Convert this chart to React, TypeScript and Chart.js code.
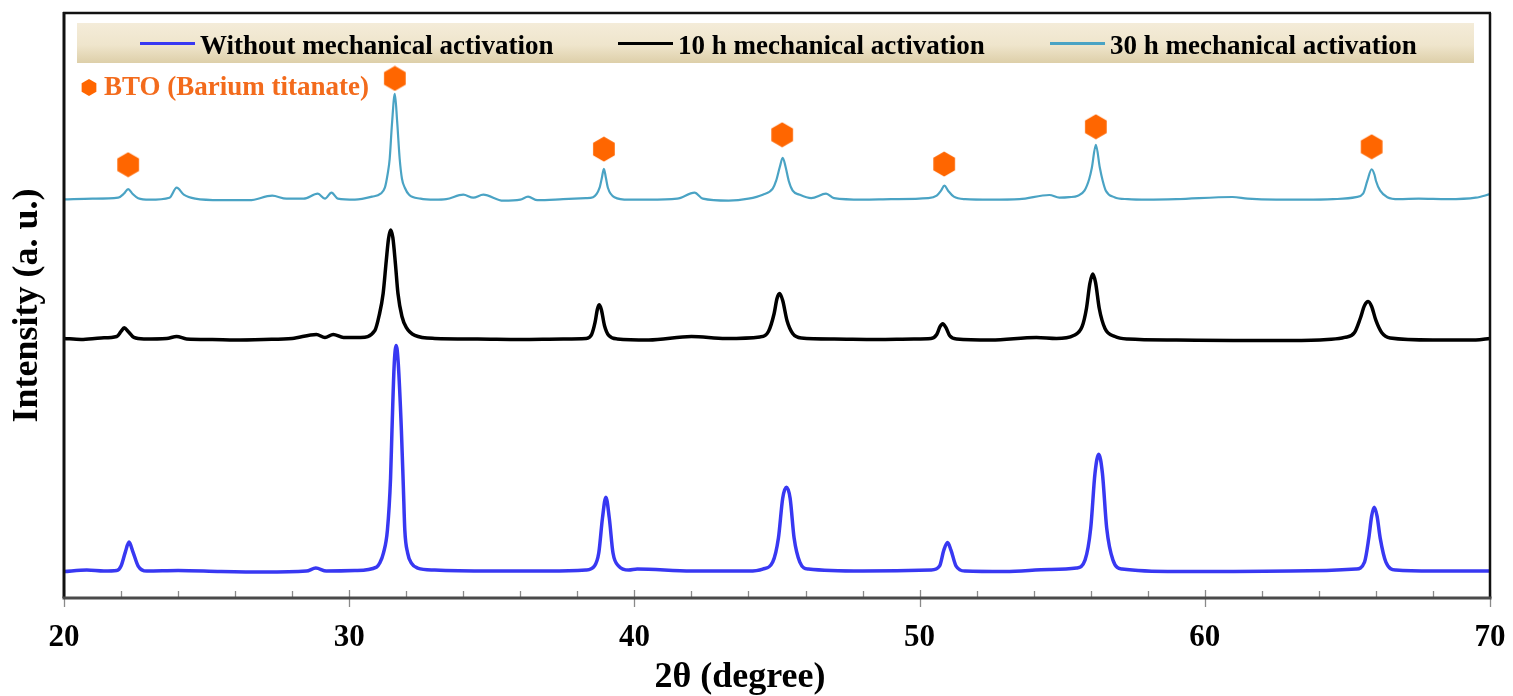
import React, { useEffect, useRef } from "react";
import { Chart, registerables } from "chart.js";

Chart.register(...registerables);

const SERIF = '"Times New Roman", "Liberation Serif", serif';

// ---- data (2θ in degrees, intensity in a.u., offsets included) ----
const xTickValues = [20, 30, 40, 50, 60, 70];
const xMinorTickValues = [22, 24, 26, 28, 32, 34, 36, 38, 42, 44, 46, 48, 52, 54, 56, 58, 62, 64, 66, 68];
const xTitle = "2θ (degree)";
const yTitle = "Intensity (a. u.)";

const seriesLabels = [
  "Without mechanical activation",
  "10 h mechanical activation",
  "30 h mechanical activation",
];
const seriesColors = ["#3838f2", "#000000", "#4aa3c4"];

const noActivation: [number, number][] = [
  [20, 26.5], [20.8, 28], [21.4, 27], [21.85, 27.5], [22.0, 32], [22.15, 46], [22.28, 56], [22.42, 46],
  [22.6, 32], [22.9, 27], [24, 27.5], [25.5, 26.5], [27, 26], [28.5, 27], [28.83, 30], [29.2, 27],
  [30.2, 27.5], [30.96, 31], [31.07, 35], [31.2, 45], [31.34, 68], [31.45, 120], [31.5, 168], [31.58, 235],
  [31.65, 253], [31.72, 235], [31.83, 168], [31.9, 110], [31.95, 68], [32.05, 45], [32.18, 35], [32.4, 30],
  [33, 28], [35, 27], [37, 27], [38.3, 28], [38.6, 32], [38.75, 45], [38.88, 80], [39.0, 101],
  [39.12, 80], [39.25, 45], [39.45, 32], [39.8, 28], [40.1, 29], [42, 27], [44, 27], [44.5, 29],
  [44.85, 36], [45.05, 60], [45.2, 100], [45.33, 111], [45.46, 100], [45.6, 60], [45.8, 36], [46.1, 29],
  [48, 27], [50.4, 28], [50.7, 32], [50.85, 48], [50.98, 55.5], [51.1, 48], [51.28, 32], [51.6, 27],
  [53, 26.5], [54.55, 28.5], [55.5, 30], [55.8, 38], [56.0, 70], [56.15, 125], [56.28, 144], [56.41, 125],
  [56.56, 70], [56.78, 38], [57.1, 29], [59, 26.5], [61, 26.5], [63, 27], [65.3, 29], [65.6, 36],
  [65.75, 60], [65.85, 82], [65.94, 91], [66.04, 82], [66.15, 60], [66.35, 36], [66.7, 28], [68, 27], [70, 27],
];

const activation10h: [number, number][] = [
  [20, 260], [20.6, 259], [21.3, 260.5], [21.85, 262], [22.0, 267], [22.11, 270.6], [22.25, 267], [22.45, 261],
  [22.8, 259.5], [23.6, 260], [23.95, 262], [24.3, 259.5], [25.2, 259], [26, 258.5], [27, 259], [28, 260],
  [28.85, 264], [29.15, 261], [29.44, 264], [29.8, 261], [30.4, 261], [30.9, 268], [31.05, 283], [31.19, 305],
  [31.3, 338], [31.38, 360], [31.45, 368.7], [31.53, 361], [31.62, 335], [31.71, 305], [31.85, 282], [32.0, 271],
  [32.3, 263], [33, 260], [34.5, 259.5], [36, 259], [37.5, 259.5], [38.3, 260], [38.5, 264], [38.62, 276],
  [38.7, 289], [38.76, 293.7], [38.84, 289], [38.95, 273], [39.1, 263], [39.4, 259.5], [40.5, 258.5], [42, 262],
  [43.2, 260], [44.4, 261.5], [44.7, 267], [44.9, 285], [45.0, 300], [45.09, 305], [45.2, 298], [45.35, 278],
  [45.55, 265], [45.85, 260.5], [47, 259.5], [48.5, 259], [49.8, 259.5], [50.4, 260], [50.6, 264], [50.72, 272],
  [50.81, 274.8], [50.92, 271], [51.05, 263], [51.3, 259.5], [52.5, 258.5], [54.1, 261], [54.8, 260], [55.4, 263],
  [55.7, 272], [55.85, 290], [55.97, 315], [56.07, 324.6], [56.17, 316], [56.3, 290], [56.5, 270], [56.85, 262],
  [57.3, 259.5], [59, 258.5], [61, 258], [63, 258], [64.3, 259], [64.9, 261], [65.25, 266], [65.45, 280],
  [65.6, 293], [65.73, 297], [65.85, 292], [66.0, 278], [66.2, 266], [66.5, 260.5], [68, 258.5], [69.5, 258.5], [70, 260],
];

const activation30h: [number, number][] = [
  [20, 399.3], [21.0, 400], [21.9, 401], [22.1, 405], [22.25, 409.6], [22.4, 405], [22.6, 400.5], [23.0, 399],
  [23.7, 401], [23.95, 411], [24.2, 404], [24.6, 400], [25.5, 398.5], [26.5, 398.5], [27.3, 403], [27.8, 400],
  [28.4, 400], [28.9, 405], [29.15, 400], [29.38, 406], [29.6, 400], [30.2, 399], [30.8, 402], [31.1, 405],
  [31.25, 411], [31.35, 425], [31.42, 440], [31.5, 475], [31.6, 505], [31.68, 478], [31.77, 440], [31.85, 420],
  [31.95, 411], [32.1, 404], [32.5, 400], [33.0, 399], [33.4, 399.5], [34.0, 404], [34.35, 401], [34.7, 404],
  [35.4, 398], [36.0, 399], [36.27, 402], [36.6, 398.5], [37.5, 399.5], [38.3, 400.5], [38.55, 401.5], [38.78, 411],
  [38.86, 421], [38.93, 430], [39.0, 421], [39.07, 411], [39.3, 401.5], [39.8, 399], [40.5, 399], [41.5, 400],
  [42.11, 406], [42.4, 400], [43.3, 398], [44.0, 400], [44.5, 404], [44.85, 410], [44.97, 418], [45.1, 432],
  [45.2, 441], [45.3, 432], [45.41, 418], [45.55, 408], [45.79, 404], [46.2, 400.5], [46.72, 405], [47.0, 400.5],
  [48, 399], [49, 399.5], [50.3, 400.5], [50.6, 403], [50.75, 408], [50.87, 413], [51.0, 408], [51.2, 402],
  [51.6, 399.5], [52.5, 399], [53.5, 399.5], [54.55, 403.7], [54.9, 401], [55.25, 401.5], [55.55, 403], [55.78, 408],
  [55.95, 420], [56.04, 431], [56.18, 454], [56.32, 431], [56.42, 418], [56.53, 408], [56.83, 401.5], [57.3, 399.5],
  [58, 399], [59, 399.5], [60.97, 401.7], [61.5, 400], [62.5, 399], [63.5, 399], [64.5, 399.5], [65.3, 401.5],
  [65.55, 405], [65.7, 418], [65.85, 429.5], [65.95, 424], [66.0, 418], [66.15, 408], [66.4, 401.5], [66.8, 399.5],
  [67.5, 400], [68.5, 399.5], [69.5, 401], [70, 404.5],
];

// BTO (barium titanate) reflection markers
const btoLabel = "BTO (Barium titanate)";
const btoTheta = [22.25, 31.6, 38.93, 45.18, 50.86, 56.18, 65.85];
const btoMarkY = [434, 520.5, 449.7, 464, 434.7, 472, 452];

const toXY = (arr: [number, number][]) => arr.map(([x, y]) => ({ x, y }));

function hexPath(ctx: CanvasRenderingContext2D, cx: number, cy: number, r: number) {
  ctx.beginPath();
  for (let k = 0; k < 6; k++) {
    const a = -Math.PI / 2 + (k * Math.PI) / 3;
    const px = cx + r * Math.cos(a);
    const py = cy + r * Math.sin(a);
    if (k === 0) ctx.moveTo(px, py);
    else ctx.lineTo(px, py);
  }
  ctx.closePath();
}

export default function App() {
  const ref = useRef<HTMLCanvasElement>(null);

  useEffect(() => {
    const canvas = ref.current;
    if (!canvas) return;

    const hex = document.createElement("canvas");
    hex.width = 26;
    hex.height = 26;
    const hctx = hex.getContext("2d")!;
    hctx.fillStyle = "#ff6600";
    hexPath(hctx, 13, 13, 12.5);
    hctx.fill();

    const decor = {
      id: "decor",
      afterDraw(chart: any) {
        const ctx = chart.ctx as CanvasRenderingContext2D;
        const xs = chart.scales.x;
        const { left, right, top, bottom } = chart.chartArea;
        ctx.save();

        // tick marks
        ctx.strokeStyle = "#8a8a8a";
        ctx.lineWidth = 1.3;
        xMinorTickValues.forEach((v) => {
          const px = Math.round(xs.getPixelForValue(v)) + 0.5;
          ctx.beginPath();
          ctx.moveTo(px, bottom);
          ctx.lineTo(px, bottom - 7);
          ctx.stroke();
        });
        xTickValues.forEach((v) => {
          const px = Math.round(xs.getPixelForValue(v)) + 0.5;
          ctx.beginPath();
          ctx.moveTo(px, bottom - 8);
          ctx.lineTo(px, bottom + 9);
          ctx.stroke();
        });

        // frame
        ctx.strokeStyle = "#111";
        ctx.lineWidth = 2.5;
        ctx.beginPath();
        ctx.moveTo(left - 1, top);
        ctx.lineTo(right + 1, top);
        ctx.moveTo(right, top);
        ctx.lineTo(right, bottom);
        ctx.stroke();
        ctx.lineWidth = 3;
        ctx.beginPath();
        ctx.moveTo(left, top - 1);
        ctx.lineTo(left, bottom);
        ctx.stroke();
        ctx.strokeStyle = "#4a4a4a";
        ctx.lineWidth = 3;
        ctx.beginPath();
        ctx.moveTo(left - 1.5, bottom);
        ctx.lineTo(right + 1.5, bottom);
        ctx.stroke();

        // x-axis title (sits left of centre in the original)
        ctx.fillStyle = "#000";
        ctx.font = `bold 36px ${SERIF}`;
        ctx.textAlign = "center";
        ctx.textBaseline = "alphabetic";
        ctx.fillText(xTitle, 740, 687);

        // legend box
        const bx = 77, by = 23, bw = 1397, bh = 40;
        const g = ctx.createLinearGradient(0, by, 0, by + bh);
        g.addColorStop(0, "#f4ecd9");
        g.addColorStop(0.55, "#efe5cc");
        g.addColorStop(1, "#ddcfa9");
        ctx.fillStyle = g;
        ctx.fillRect(bx, by, bw, bh);

        const itemX = [140, 618, 1050];
        ctx.font = `bold 27px ${SERIF}`;
        ctx.textBaseline = "alphabetic";
        ctx.textAlign = "left";
        for (let i = 0; i < 3; i++) {
          const ds = chart.data.datasets[i];
          ctx.strokeStyle = ds.borderColor;
          ctx.lineWidth = 3;
          ctx.beginPath();
          ctx.moveTo(itemX[i], 43.5);
          ctx.lineTo(itemX[i] + 55, 43.5);
          ctx.stroke();
          ctx.fillStyle = "#000";
          ctx.fillText(ds.label, itemX[i] + 60, 54);
        }

        // BTO key
        ctx.fillStyle = "#ff6600";
        hexPath(ctx, 89, 87.5, 8.5);
        ctx.fill();
        ctx.fillStyle = "#f36b1c";
        ctx.font = `bold 27px ${SERIF}`;
        ctx.fillText(btoLabel, 104, 95);

        ctx.restore();
      },
    };

    const lineDs = (i: number, data: [number, number][], width: number) => ({
      label: seriesLabels[i],
      data: toXY(data),
      borderColor: seriesColors[i],
      backgroundColor: seriesColors[i],
      borderWidth: width,
      pointRadius: 0,
      cubicInterpolationMode: "monotone" as const,
      fill: false,
    });

    const chart = new Chart(canvas, {
      type: "line",
      data: {
        datasets: [
          lineDs(0, noActivation, 3.5),
          lineDs(1, activation10h, 3.5),
          lineDs(2, activation30h, 2.2),
          {
            label: "BTO",
            data: btoTheta.map((x, i) => ({ x, y: btoMarkY[i] })),
            showLine: false,
            pointStyle: hex as any,
            pointRadius: 12,
            borderColor: "#ff6600",
            backgroundColor: "#ff6600",
          } as any,
        ],
      },
      options: {
        animation: false,
        responsive: false,
        layout: { padding: { top: 12, right: 23, left: 0, bottom: 0 } },
        plugins: { legend: { display: false }, tooltip: { enabled: false } },
        scales: {
          x: {
            type: "linear",
            min: 20,
            max: 70,
            afterBuildTicks: (s: any) => {
              s.ticks = xTickValues.map((v) => ({ value: v }));
            },
            ticks: {
              font: { family: SERIF, size: 31, weight: "bold" },
              color: "#000",
              padding: 21,
              maxRotation: 0,
              autoSkip: false,
            },
            grid: { display: false, drawTicks: false },
            border: { display: false },
            title: { display: false },
            afterFit: (s: any) => {
              s.height = 98;
              s.paddingLeft = 0;
              s.paddingRight = 0;
            },
          },
          y: {
            type: "linear",
            min: 0,
            max: 586,
            ticks: { display: false },
            grid: { display: false, drawTicks: false },
            border: { display: false },
            title: {
              display: true,
              text: yTitle,
              font: { family: SERIF, size: 36, weight: "bold" },
              color: "#000",
              padding: { top: 6, bottom: 0 },
            },
            afterFit: (s: any) => {
              s.width = 64;
            },
          },
        },
      } as any,
      plugins: [decor],
    });

    return () => chart.destroy();
  }, []);

  return (
    <div style={{ position: "absolute", left: 0, top: 0, width: 1513, height: 696, background: "#fff" }}>
      <canvas ref={ref} width={1513} height={696} style={{ display: "block" }} />
    </div>
  );
}
